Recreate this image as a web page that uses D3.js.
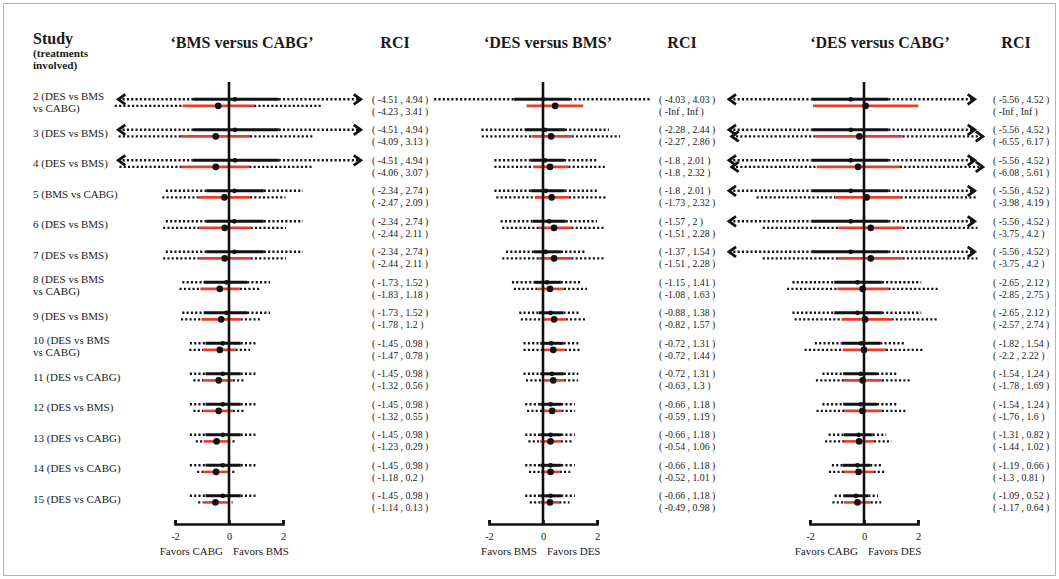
<!DOCTYPE html>
<html>
<head>
<meta charset="utf-8">
<script src="https://cdn.jsdelivr.net/npm/d3@7"></script>
<style>
  body { margin: 0; background: #fff; }
  svg { display: block; }
  text { font-family: "Liberation Serif", "Times New Roman", serif; fill: #1a1a1a; }
</style>
</head>
<body>
<svg id="chart" width="1059" height="579"></svg>
<script>
// ---------------- data ----------------
const studyLabels = [
  ["2 (DES vs BMS", "vs CABG)"],
  ["3 (DES vs BMS)"],
  ["4 (DES vs BMS)"],
  ["5 (BMS vs CABG)"],
  ["6 (DES vs BMS)"],
  ["7 (DES vs BMS)"],
  ["8 (DES vs BMS", "vs CABG)"],
  ["9 (DES vs BMS)"],
  ["10 (DES vs BMS", "vs CABG)"],
  ["11 (DES vs CABG)"],
  ["12 (DES vs BMS)"],
  ["13 (DES vs CABG)"],
  ["14 (DES vs CABG)"],
  ["15 (DES vs CABG)"]
];
const panelTitles = ["\u2018BMS versus CABG\u2019", "\u2018DES versus BMS\u2019", "\u2018DES versus CABG\u2019"];
const favorLabels = [["Favors CABG", "Favors BMS"], ["Favors BMS", "Favors DES"], ["Favors CABG", "Favors DES"]];
const tickValues = [-2, 0, 2];

// BMS versus CABG: upper (black) and lower (red) intervals; CI as [low, estimate, high]
const bmsCabgUpperRci = [[-4.51,4.94],[-4.51,4.94],[-4.51,4.94],[-2.34,2.74],[-2.34,2.74],[-2.34,2.74],[-1.73,1.52],[-1.73,1.52],[-1.45,0.98],[-1.45,0.98],[-1.45,0.98],[-1.45,0.98],[-1.45,0.98],[-1.45,0.98]];
const bmsCabgUpperCi = [[-1.33,0.22,1.84],[-1.33,0.22,1.84],[-1.33,0.22,1.84],[-0.84,0.2,1.29],[-0.84,0.2,1.29],[-0.84,0.2,1.29],[-0.94,-0.09,0.67],[-0.94,-0.09,0.67],[-0.87,-0.23,0.43],[-0.87,-0.23,0.43],[-0.87,-0.23,0.43],[-0.87,-0.23,0.43],[-0.87,-0.23,0.43],[-0.87,-0.23,0.43]];
const bmsCabgLowerRci = [[-4.23,3.41],[-4.09,3.13],[-4.06,3.07],[-2.47,2.09],[-2.44,2.11],[-2.44,2.11],[-1.83,1.18],[-1.78,1.2],[-1.47,0.78],[-1.32,0.56],[-1.32,0.55],[-1.23,0.29],[-1.18,0.2],[-1.14,0.13]];
const bmsCabgLowerCi = [[-1.72,-0.4,0.93],[-1.78,-0.49,0.78],[-1.78,-0.49,0.75],[-1.12,-0.17,0.78],[-1.1,-0.16,0.8],[-1.1,-0.16,0.8],[-1.06,-0.34,0.4],[-1.02,-0.29,0.43],[-0.94,-0.34,0.24],[-0.94,-0.38,0.14],[-0.94,-0.38,0.14],[-0.94,-0.46,-0.03],[-0.94,-0.48,-0.04],[-0.94,-0.5,-0.06]];

// DES versus BMS
const desBmsUpperRci = [[-4.03,4.03],[-2.28,2.44],[-1.8,2.01],[-1.8,2.01],[-1.57,2],[-1.37,1.54],[-1.15,1.41],[-0.88,1.38],[-0.72,1.31],[-0.72,1.31],[-0.66,1.18],[-0.66,1.18],[-0.66,1.18],[-0.66,1.18]];
const desBmsUpperCi = [[-1.07,0.0,1.0],[-0.67,0.07,0.81],[-0.46,0.07,0.78],[-0.44,0.1,0.8],[-0.39,0.23,0.84],[-0.33,0.1,0.66],[-0.33,0.15,0.66],[-0.15,0.28,0.76],[-0.1,0.31,0.76],[-0.1,0.33,0.77],[-0.1,0.28,0.67],[-0.1,0.28,0.67],[-0.1,0.28,0.67],[-0.1,0.28,0.67]];
const desBmsLowerRci = [[-Infinity,Infinity],[-2.27,2.86],[-1.8,2.32],[-1.73,2.32],[-1.51,2.28],[-1.51,2.28],[-1.08,1.63],[-0.82,1.57],[-0.72,1.44],[-0.63,1.3],[-0.59,1.19],[-0.54,1.06],[-0.52,1.01],[-0.49,0.98]];
const desBmsLowerCi = [[-0.61,0.45,1.49],[-0.42,0.3,1.06],[-0.36,0.26,0.94],[-0.31,0.32,0.96],[-0.15,0.41,1.05],[-0.15,0.41,1.05],[-0.2,0.26,0.77],[-0.03,0.41,0.84],[-0.03,0.38,0.8],[0.02,0.38,0.77],[0.0,0.34,0.68],[-0.1,0.28,0.66],[-0.08,0.28,0.62],[-0.08,0.26,0.6]];

// DES versus CABG
const desCabgUpperRci = [[-5.56,4.52],[-5.56,4.52],[-5.56,4.52],[-5.56,4.52],[-5.56,4.52],[-5.56,4.52],[-2.65,2.12],[-2.65,2.12],[-1.82,1.54],[-1.54,1.24],[-1.54,1.24],[-1.31,0.82],[-1.19,0.66],[-1.09,0.52]];
const desCabgUpperCi = [[-1.94,-0.49,0.9],[-1.94,-0.49,0.9],[-1.94,-0.49,0.9],[-1.94,-0.49,0.9],[-1.94,-0.49,0.9],[-1.94,-0.49,0.9],[-1.1,-0.24,0.66],[-1.1,-0.24,0.66],[-0.83,-0.1,0.6],[-0.77,-0.12,0.48],[-0.77,-0.12,0.48],[-0.74,-0.2,0.32],[-0.79,-0.24,0.23],[-0.77,-0.3,0.16]];
const desCabgLowerRci = [[-Infinity,Infinity],[-6.55,6.17],[-6.08,5.61],[-3.98,4.19],[-3.75,4.2],[-3.75,4.2],[-2.85,2.75],[-2.57,2.74],[-2.2,2.22],[-1.78,1.69],[-1.76,1.6],[-1.44,1.02],[-1.3,0.81],[-1.17,0.64]];
const desCabgLowerCi = [[-1.89,0.06,2.01],[-1.8,-0.17,1.43],[-1.75,-0.22,1.33],[-1.07,0.1,1.35],[-0.95,0.25,1.43],[-0.97,0.25,1.43],[-0.99,-0.05,0.9],[-0.83,0.04,1.02],[-0.79,0.0,0.81],[-0.74,-0.05,0.66],[-0.74,-0.06,0.66],[-0.74,-0.18,0.37],[-0.74,-0.2,0.35],[-0.74,-0.24,0.25]];

// plotted window of each panel (intervals reaching beyond it end in an arrow)
const upperLimits = [[-4.1, 4.88], [-6, 6], [-5.0, 4.1]];
const lowerLimits = [[-6, 6], [-6, 6], [-4.9, 4.4]];

// ---------------- layout ----------------
const svg = d3.select("#chart");
const RED = "#e63c2c";
const rowTop = 99.3, rowStep = 30.5, lowerOffset = 6.6;
const plotTop = 82, axisY = 524;
const unitPx = 27;

const panels = [
  { zero: 229, titleX: 242, rciX: 372, rciHeadX: 395,
    upperRci: bmsCabgUpperRci, upperCi: bmsCabgUpperCi, lowerRci: bmsCabgLowerRci, lowerCi: bmsCabgLowerCi },
  { zero: 543, titleX: 548, rciX: 659, rciHeadX: 682,
    upperRci: desBmsUpperRci, upperCi: desBmsUpperCi, lowerRci: desBmsLowerRci, lowerCi: desBmsLowerCi },
  { zero: 864, titleX: 880, rciX: 993, rciHeadX: 1016,
    upperRci: desCabgUpperRci, upperCi: desCabgUpperCi, lowerRci: desCabgLowerRci, lowerCi: desCabgLowerCi }
];

const rowY = i => rowTop + i * rowStep;

// frame
svg.append("rect").attr("x", 3.5).attr("y", 3.5).attr("width", 1052).attr("height", 572)
  .attr("fill", "none").attr("stroke", "#b5b5b5").attr("stroke-width", 1);

// study column header
svg.append("text").attr("x", 33).attr("y", 43.5).attr("font-size", 16).attr("font-weight", "bold").text("Study");
svg.append("text").attr("x", 33).attr("y", 57).attr("font-size", 11.2).attr("font-weight", "bold").text("(treatments");
svg.append("text").attr("x", 33).attr("y", 69).attr("font-size", 11.2).attr("font-weight", "bold").text("involved)");

// study labels
studyLabels.forEach((lines, i) => {
  const y = rowY(i);
  const t = svg.append("text").attr("font-size", 11);
  if (lines.length === 1) {
    t.append("tspan").attr("x", 33).attr("y", y + 7).text(lines[0]);
  } else {
    t.append("tspan").attr("x", 33).attr("y", y + 0.5).text(lines[0]);
    t.append("tspan").attr("x", 33).attr("y", y + 13).text(lines[1]);
  }
});

const fmt = v => (v === -Infinity ? "-Inf" : v === Infinity ? "Inf" : String(v));

function drawInterval(g, x, y, ci, rci, lim, lower) {
  const [lo, est, hi] = ci;
  const [rlo, rhi] = rci;
  const dotted = (a, b) => g.append("line")
    .attr("x1", x(a)).attr("x2", x(b)).attr("y1", y).attr("y2", y)
    .attr("stroke", "#111").attr("stroke-width", 2.4).attr("stroke-dasharray", "2.1,2.2");
  const arrow = (v, dir) => {
    const tx = x(v);
    g.append("path")
      .attr("d", `M${tx + dir * 7},${y - 5}L${tx},${y}L${tx + dir * 7},${y + 5}`)
      .attr("fill", "none").attr("stroke", "#111").attr("stroke-width", 2.8)
      .attr("stroke-linejoin", "miter");
  };
  if (isFinite(rlo)) {
    const a = Math.max(rlo, lim[0]);
    dotted(a, lo);
    if (rlo < lim[0]) arrow(lim[0], 1);
  }
  if (isFinite(rhi)) {
    const b = Math.min(rhi, lim[1]);
    dotted(hi, b);
    if (rhi > lim[1]) arrow(lim[1], -1);
  }
  g.append("line")
    .attr("x1", x(lo)).attr("x2", x(hi)).attr("y1", y).attr("y2", y)
    .attr("stroke", lower ? RED : "#111").attr("stroke-width", lower ? 2.6 : 3);
}

panels.forEach((p, pi) => {
  const x = d3.scaleLinear().domain([-2, 2]).range([p.zero - 2 * unitPx, p.zero + 2 * unitPx]);
  const g = svg.append("g");

  // headers
  svg.append("text").attr("x", p.titleX).attr("y", 47.5).attr("text-anchor", "middle")
    .attr("font-size", 16).attr("font-weight", "bold").text(panelTitles[pi]);
  svg.append("text").attr("x", p.rciHeadX).attr("y", 47.5).attr("text-anchor", "middle")
    .attr("font-size", 16).attr("font-weight", "bold").text("RCI");

  // intervals
  const marks = g.append("g");
  studyLabels.forEach((_, i) => {
    drawInterval(marks, x, rowY(i), p.upperCi[i], p.upperRci[i], upperLimits[pi], false);
    drawInterval(marks, x, rowY(i) + lowerOffset, p.lowerCi[i], p.lowerRci[i], lowerLimits[pi], true);
  });

  // reference line at zero
  g.append("line").attr("x1", x(0)).attr("x2", x(0)).attr("y1", plotTop).attr("y2", axisY)
    .attr("stroke", "#111").attr("stroke-width", 2.6);

  // point estimates, drawn over the reference line
  studyLabels.forEach((_, i) => {
    g.append("circle").attr("cx", x(p.upperCi[i][1])).attr("cy", rowY(i)).attr("r", 2.4).attr("fill", "#111");
    g.append("circle").attr("cx", x(p.lowerCi[i][1])).attr("cy", rowY(i) + lowerOffset).attr("r", 3.3).attr("fill", "#111");
  });

  // axis
  const axis = d3.axisBottom(x).tickValues(tickValues).tickSize(-4).tickSizeOuter(-4).tickPadding(9)
    .tickFormat(d => String(d));
  const ag = svg.append("g").attr("transform", `translate(0,${axisY})`).call(axis);
  ag.select(".domain").attr("stroke", "#111").attr("stroke-width", 2.6);
  ag.selectAll(".tick line").attr("stroke", "#111").attr("stroke-width", 2.6);
  ag.selectAll(".tick text").attr("font-size", 10.5).attr("font-family", "Liberation Serif, serif").attr("fill", "#1a1a1a");

  svg.append("text").attr("x", x(0) - 6).attr("y", 555).attr("text-anchor", "end").attr("font-size", 11).text(favorLabels[pi][0]);
  svg.append("text").attr("x", x(0) + 4).attr("y", 555).attr("font-size", 11).text(favorLabels[pi][1]);

  // RCI text column
  studyLabels.forEach((_, i) => {
    const y = rowY(i);
    const u = p.upperRci[i], l = p.lowerRci[i];
    svg.append("text").attr("x", p.rciX).attr("y", y + 3.5).attr("font-size", 9.8)
      .text(`( ${fmt(u[0])} , ${fmt(u[1])} )`);
    svg.append("text").attr("x", p.rciX).attr("y", y + 15.5).attr("font-size", 9.8)
      .text(`( ${fmt(l[0])} , ${fmt(l[1])} )`);
  });
});
</script>
</body>
</html>
